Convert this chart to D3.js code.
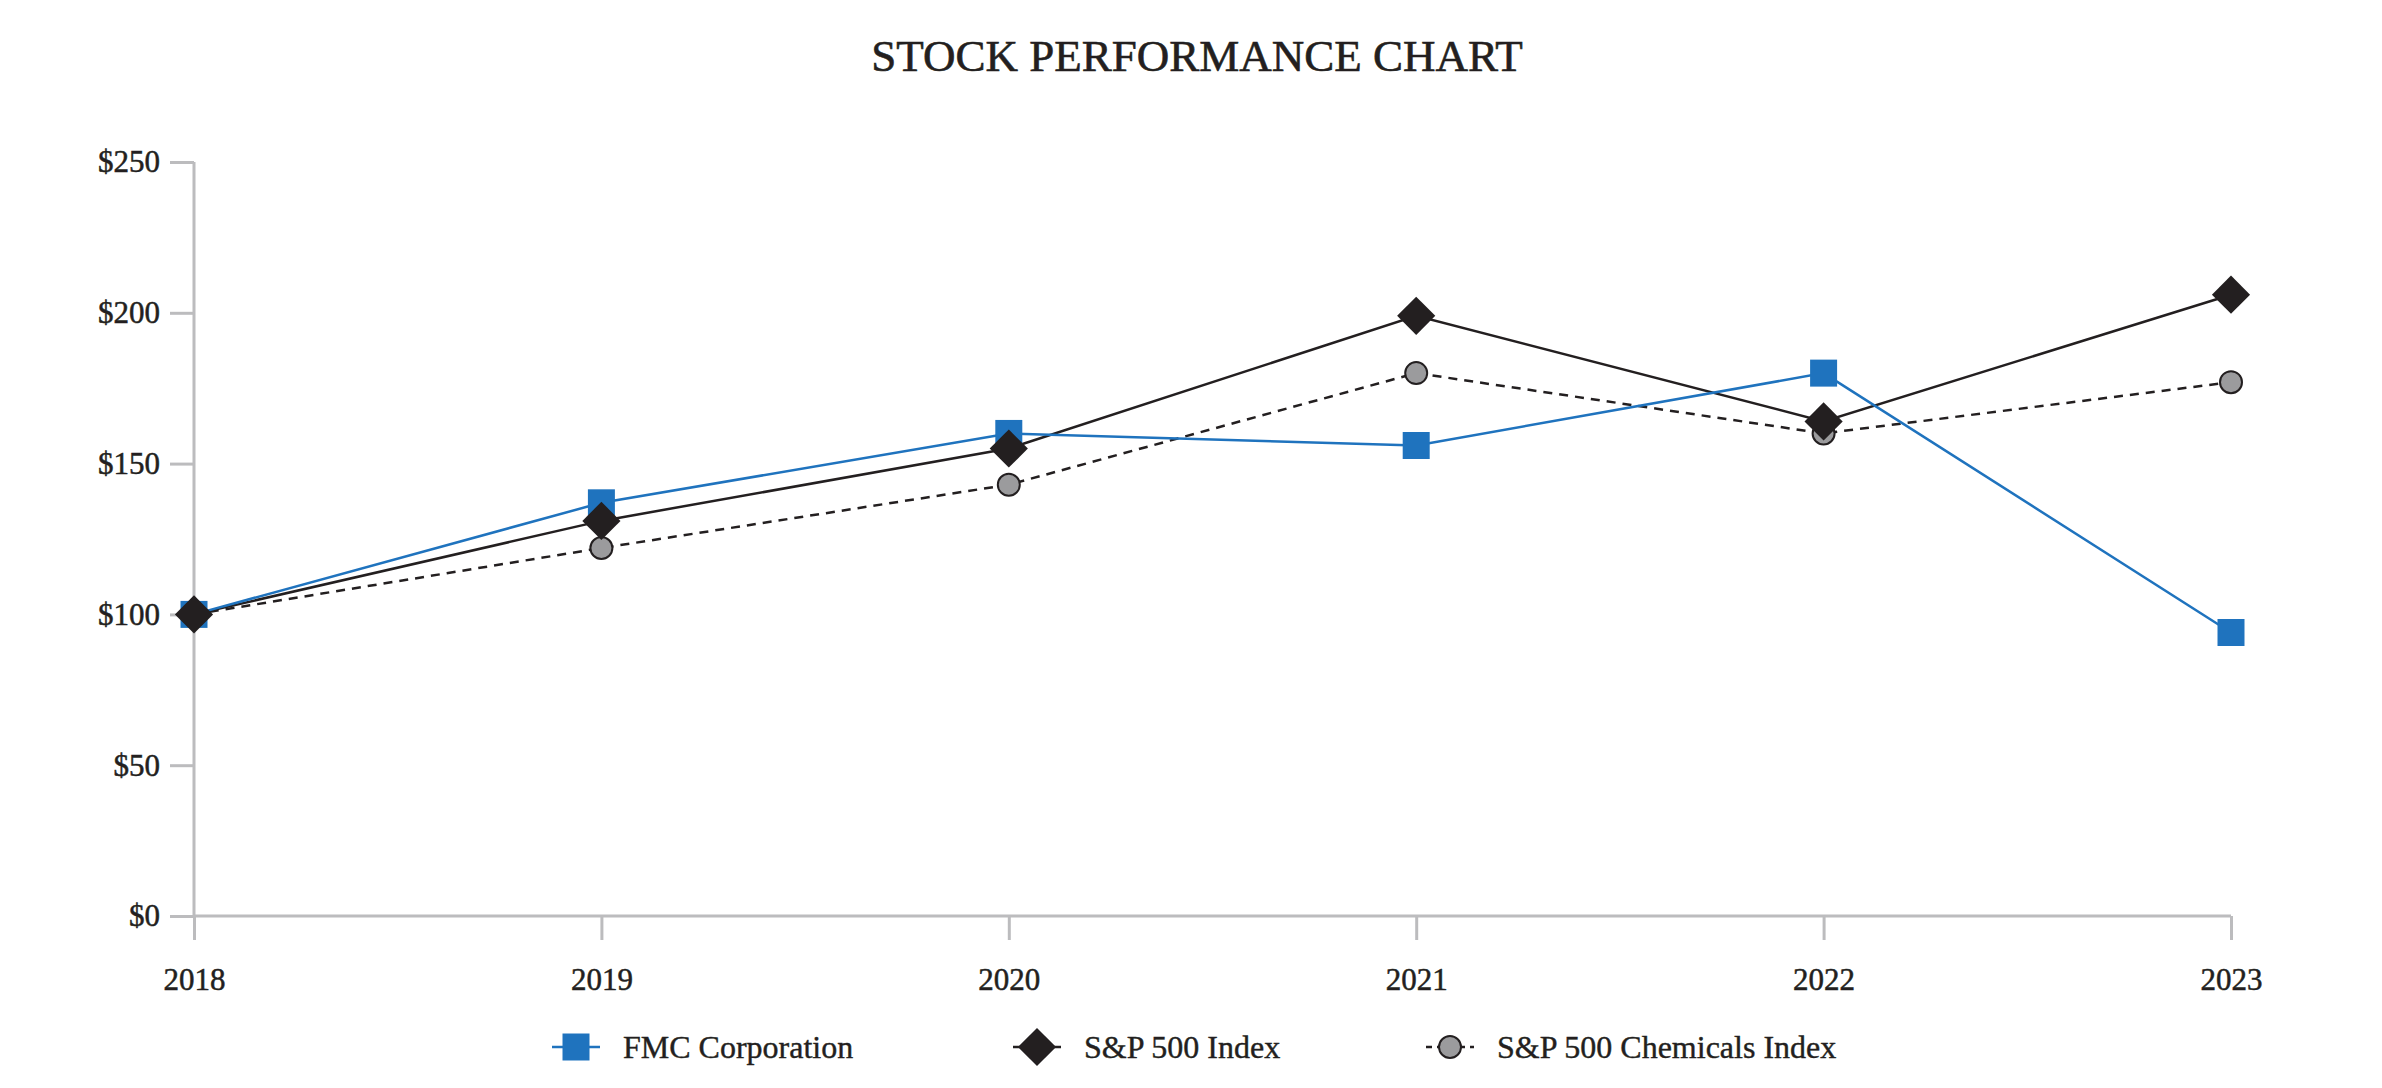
<!DOCTYPE html>
<html>
<head>
<meta charset="utf-8">
<script src="https://cdn.jsdelivr.net/npm/d3@7"></script>
<style>
  body { margin: 0; background: #fff; }
  text { font-family: "Liberation Serif", "DejaVu Serif", serif; fill: #231f20; }
</style>
</head>
<body>
<div id="chart"></div>
<script>
var years = [2018, 2019, 2020, 2021, 2022, 2023];
var fmc = [100, 137, 160, 156, 180, 94];
var sp500 = [100, 131, 155, 199, 164, 206];
var chemicals = [100, 122, 143, 180, 160, 177];
var yTicks = [0, 50, 100, 150, 200, 250];

var svgWidth = 2382;
var svgHeight = 1088;

var margin = { top: 162, right: 141, bottom: 172, left: 194 };
var width = svgWidth - margin.left - margin.right - 10;
var height = svgHeight - margin.top - margin.bottom;

var svg = d3.select("#chart")
    .append("svg")
    .attr("width", svgWidth)
    .attr("height", svgHeight);

svg.append("text")
    .attr("x", 1197)
    .attr("y", 71)
    .attr("text-anchor", "middle")
    .attr("font-size", 45)
    .attr("stroke", "#231f20")
    .attr("stroke-width", 0.6)
    .text("STOCK PERFORMANCE CHART");

var chartGroup = svg.append("g")
    .attr("transform", `translate(${margin.left}, ${margin.top})`);

var xScale = d3.scalePoint().domain(years).range([0, width]);
var yScale = d3.scaleLinear().domain([0, 250]).range([height, 0]);

var axisColor = "#bcbcbe";

var leftAxis = d3.axisLeft(yScale)
    .tickValues(yTicks)
    .tickSize(24)
    .tickPadding(10)
    .tickFormat(d => "$" + d);

var bottomAxis = d3.axisBottom(xScale)
    .tickSize(24)
    .tickPadding(28)
    .tickFormat(d => d);

var yAxisG = chartGroup.append("g").call(leftAxis);
var xAxisG = chartGroup.append("g")
    .attr("transform", `translate(0,${height})`)
    .call(bottomAxis);

[yAxisG, xAxisG].forEach(function(g) {
    g.select(".domain").remove();
    g.selectAll(".tick line").attr("stroke", axisColor).attr("stroke-width", 3);
    g.selectAll(".tick text")
        .attr("font-family", "Liberation Serif, serif")
        .attr("font-size", 31)
        .attr("fill", "#231f20")
        .attr("stroke", "#231f20")
        .attr("stroke-width", 0.5);
});

// axis lines
chartGroup.append("line")
    .attr("x1", 0).attr("x2", 0)
    .attr("y1", 0).attr("y2", height)
    .attr("stroke", axisColor).attr("stroke-width", 3);
chartGroup.append("line")
    .attr("x1", 0).attr("x2", width)
    .attr("y1", height).attr("y2", height)
    .attr("stroke", axisColor).attr("stroke-width", 3);

var line = d3.line()
    .x((d, i) => xScale(years[i]))
    .y(d => yScale(d));

var blue = "#1f73be";
var dark = "#231f20";

// chemicals dashed
chartGroup.append("path")
    .datum(chemicals)
    .attr("d", line)
    .attr("fill", "none")
    .attr("stroke", dark)
    .attr("stroke-width", 2.5)
    .attr("stroke-dasharray", "9,7");

chartGroup.append("path")
    .datum(sp500)
    .attr("d", line)
    .attr("fill", "none")
    .attr("stroke", dark)
    .attr("stroke-width", 2.5);

chartGroup.append("path")
    .datum(fmc)
    .attr("d", line)
    .attr("fill", "none")
    .attr("stroke", blue)
    .attr("stroke-width", 2.5);

var squareSym = d3.symbol().type(d3.symbolSquare).size(27 * 27);
var diamondSym = d3.symbol().type(d3.symbolSquare).size(27 * 27);
var circleSym = d3.symbol().type(d3.symbolCircle).size(Math.PI * 11 * 11);

chartGroup.selectAll(".chem")
    .data(chemicals)
    .enter()
    .append("path")
    .attr("d", circleSym)
    .attr("transform", (d, i) => `translate(${xScale(years[i])},${yScale(d)})`)
    .attr("fill", "#9b9b9d")
    .attr("stroke", dark)
    .attr("stroke-width", 2);

chartGroup.selectAll(".fmc")
    .data(fmc)
    .enter()
    .append("path")
    .attr("d", squareSym)
    .attr("transform", (d, i) => `translate(${xScale(years[i])},${yScale(d)})`)
    .attr("fill", blue);

chartGroup.selectAll(".sp")
    .data(sp500)
    .enter()
    .append("path")
    .attr("d", diamondSym)
    .attr("transform", (d, i) => `translate(${xScale(years[i])},${yScale(d)}) rotate(45)`)
    .attr("fill", dark);

// legend
var legendItems = [
    { name: "FMC Corporation", x: 576, kind: "square" },
    { name: "S&P 500 Index", x: 1037, kind: "diamond" },
    { name: "S&P 500 Chemicals Index", x: 1450, kind: "circle" }
];
var legendY = 1047;

var legend = svg.append("g");
legendItems.forEach(function(item) {
    var g = legend.append("g").attr("transform", `translate(${item.x},${legendY})`);
    g.append("line")
        .attr("x1", -24).attr("x2", 24)
        .attr("stroke", item.kind === "square" ? blue : dark)
        .attr("stroke-width", 2.5)
        .attr("stroke-dasharray", item.kind === "circle" ? "6,5" : null);
    if (item.kind === "square") {
        g.append("path").attr("d", squareSym).attr("fill", blue);
    } else if (item.kind === "diamond") {
        g.append("path").attr("d", diamondSym).attr("transform", "rotate(45)").attr("fill", dark);
    } else {
        g.append("path").attr("d", circleSym).attr("fill", "#9b9b9d")
            .attr("stroke", dark).attr("stroke-width", 2);
    }
    g.append("text")
        .attr("x", 47)
        .attr("y", 11)
        .attr("font-size", 32)
        .attr("stroke", "#231f20")
        .attr("stroke-width", 0.4)
        .text(item.name);
});
</script>
</body>
</html>
